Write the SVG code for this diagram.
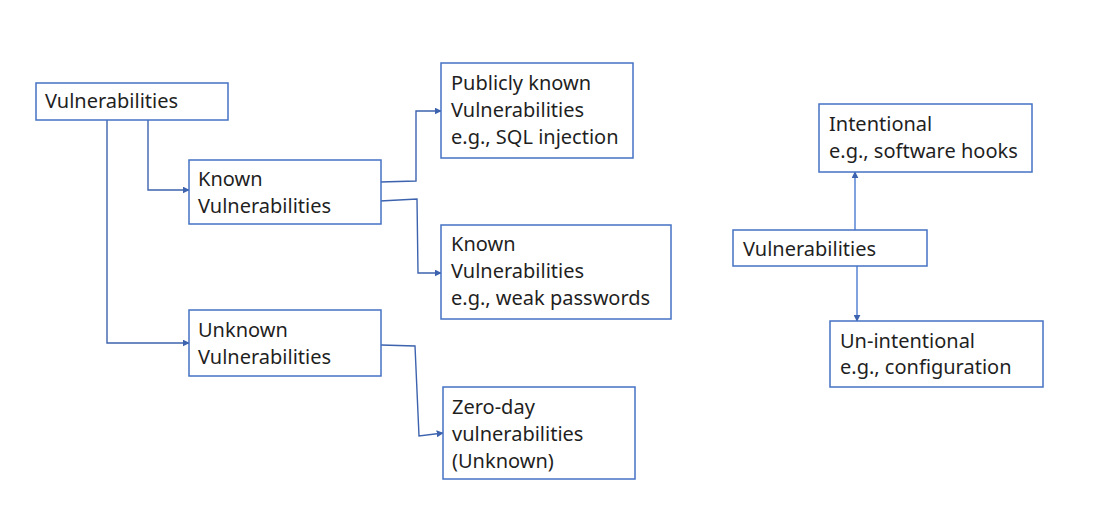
<svg xmlns="http://www.w3.org/2000/svg" width="1099" height="519" viewBox="0 0 1099 519">
<defs>
<style>
.box{fill:#fff;stroke:#4472C4;stroke-width:1.5}
.t{font-family:"Noto Sans","Open Sans",sans-serif;font-size:20px;fill:#1f1f1f}
.c{fill:none;stroke:#3D63AE;stroke-width:1.4}
.c2{fill:none;stroke:#4A7BD0;stroke-width:1.4}
</style>
<marker id="ah" viewBox="0 0 10 10" refX="9" refY="5" markerWidth="7" markerHeight="7" markerUnits="userSpaceOnUse" orient="auto">
<path d="M0,0 L10,5 L0,10 z" fill="#3D63AE"/>
</marker>
</defs>
<rect width="1099" height="519" fill="#fff"/>
<g id="connectors">
<polyline class="c" points="148,120 148,190 189,190" marker-end="url(#ah)"/>
<polyline class="c" points="107,120 107,343 189,343" marker-end="url(#ah)"/>
<polyline class="c" points="380,182 416,181 416,111 441,111" marker-end="url(#ah)"/>
<polyline class="c" points="380,201 417,199 418,273 441,273" marker-end="url(#ah)"/>
<polyline class="c" points="381,345 415,346 419,436 443,433" marker-end="url(#ah)"/>
<line class="c2" x1="855" y1="230" x2="855" y2="172" marker-end="url(#ah)"/>
<line class="c2" x1="857" y1="266" x2="857" y2="321" marker-end="url(#ah)"/>
</g>
<g id="n-vuln">
<rect class="box" x="36" y="83" width="192" height="37"/>
<text class="t" x="45" y="108">Vulnerabilities</text>
</g>
<g id="n-known">
<rect class="box" x="189" y="160" width="192" height="64"/>
<text class="t" x="198" y="186">Known</text>
<text class="t" x="198" y="213">Vulnerabilities</text>
</g>
<g id="n-unknown">
<rect class="box" x="189" y="310" width="192" height="66"/>
<text class="t" x="198" y="337">Unknown</text>
<text class="t" x="198" y="364">Vulnerabilities</text>
</g>
<g id="n-public">
<rect class="box" x="441" y="63" width="192" height="95"/>
<text class="t" x="451" y="90">Publicly known</text>
<text class="t" x="451" y="117">Vulnerabilities</text>
<text class="t" x="451" y="144">e.g., SQL injection</text>
</g>
<g id="n-weak">
<rect class="box" x="441" y="225" width="230" height="94"/>
<text class="t" x="451" y="251">Known</text>
<text class="t" x="451" y="278">Vulnerabilities</text>
<text class="t" x="451" y="305">e.g., weak passwords</text>
</g>
<g id="n-zero">
<rect class="box" x="443" y="387" width="192" height="92"/>
<text class="t" x="452" y="414">Zero-day</text>
<text class="t" x="452" y="441">vulnerabilities</text>
<text class="t" x="452" y="468">(Unknown)</text>
</g>
<g id="n-vuln2">
<rect class="box" x="733" y="230" width="194" height="36"/>
<text class="t" x="743" y="256">Vulnerabilities</text>
</g>
<g id="n-intentional">
<rect class="box" x="819" y="104" width="213" height="68"/>
<text class="t" x="829" y="131">Intentional</text>
<text class="t" x="829" y="158">e.g., software hooks</text>
</g>
<g id="n-unintentional">
<rect class="box" x="830" y="321" width="213" height="66"/>
<text class="t" x="840" y="348">Un-intentional</text>
<text class="t" x="840" y="374">e.g., configuration</text>
</g>
</svg>
